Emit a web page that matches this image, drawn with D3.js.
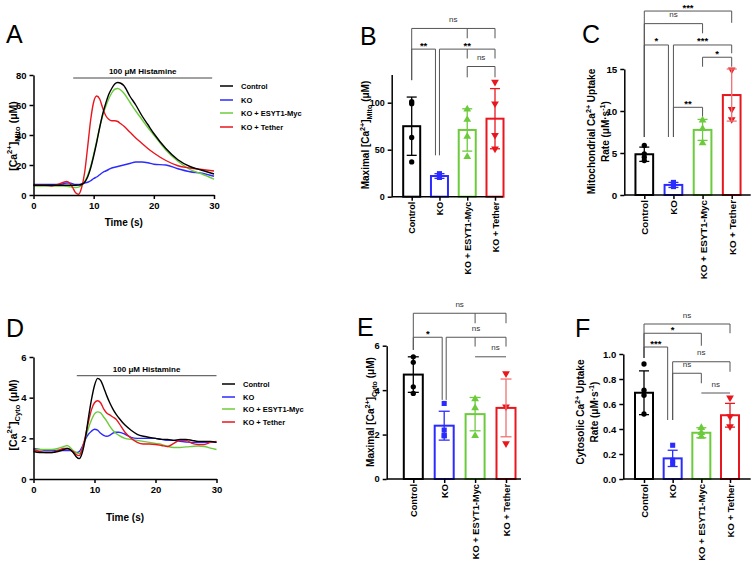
<!DOCTYPE html>
<html>
<head>
<meta charset="utf-8">
<script src="https://cdn.jsdelivr.net/npm/d3@7"></script>
<style>
  body { margin: 0; background: #fff; }
  svg { font-family: "Liberation Sans", Arial, sans-serif; }
</style>
</head>
<body>
<div id="figura"></div>
<script>
const width = 753;
const height = 569;

const svg = d3.select("#figura").append("svg")
    .attr("width", width)
    .attr("height", height);

const groups = ["Control", "KO", "KO + ESYT1-Myc", "KO + Tether"];
const colors = ["#000000", "#2b2bff", "#6ccb3c", "#e8161e"];

// Painel A - [Ca2+] mitocondrial ao longo do tempo
const timeA = [0, 2, 3, 4, 5, 5.5, 6, 6.5, 7, 7.5, 8, 8.5, 9, 9.5, 10, 10.5, 11, 11.5, 12, 12.5,
    13, 13.5, 14, 14.5, 15, 16, 17, 18, 19, 20, 22, 24, 26, 28, 30];
const mitoControl = [6.5, 6.5, 6.5, 6.5, 6.5, 6.5, 6.5, 6.5, 6.5, 6.6, 7, 8.5, 12, 18, 26, 35, 45, 54, 61, 67,
    71, 74, 75, 74.5, 73, 66, 60, 53, 47, 41, 31, 23.5, 19, 16.5, 14];
const mitoKO = [7, 7, 7, 7, 7.5, 8, 8, 7.5, 7, 7, 7.5, 8, 8.5, 9.5, 11, 12, 13.5, 15, 16, 17,
    18, 18.5, 19, 19.5, 20, 21, 22, 22, 21.5, 20.5, 20, 17.5, 15.5, 14.5, 12.5];
const mitoEsyt = [6, 6, 6, 6, 6, 5.8, 5.5, 5.2, 5, 5.3, 6.5, 9, 13, 19, 27, 36, 45, 53, 59, 64,
    68, 70.5, 71, 70, 68, 62, 56, 50.5, 45, 40, 30, 22.5, 17, 14, 10.5];
const mitoTether = [6.5, 6.5, 6, 7, 8.5, 9, 8, 5, 1.5, 0.5, 5, 15, 32, 50, 62, 66, 64, 58, 53, 50.5,
    49.5, 49.5, 49, 47.5, 46, 42, 38, 34.5, 31, 28, 23, 19.5, 18, 17, 16];

// Painel D - [Ca2+] citosólico ao longo do tempo
const timeD = [0, 1, 2, 3, 4, 5, 5.5, 6, 6.5, 7, 7.5, 8, 8.5, 9, 9.5, 10, 10.5, 11, 11.5, 12,
    12.5, 13, 13.5, 14, 15, 16, 17, 18, 19, 20, 21, 22, 23, 24, 25, 26, 27, 28, 29, 30];
const cytoControl = [1.35, 1.3, 1.3, 1.3, 1.35, 1.45, 1.5, 1.45, 1.3, 1.1, 1.0, 1.3, 2.0, 3.0, 3.9, 4.6, 4.95, 4.85, 4.5, 4.1,
    3.75, 3.45, 3.2, 3.0, 2.65, 2.4, 2.2, 2.1, 2.05, 2.0, 1.95, 1.95, 1.9, 1.95, 1.95, 1.9, 1.85, 1.85, 1.85, 1.8];
const cytoKO = [1.5, 1.45, 1.4, 1.4, 1.4, 1.4, 1.4, 1.4, 1.35, 1.3, 1.35, 1.6, 1.95, 2.2, 2.35, 2.45, 2.4, 2.25, 2.15, 2.1,
    2.15, 2.25, 2.3, 2.3, 2.2, 2.05, 2.0, 2.0, 2.0, 2.0, 1.95, 1.9, 1.9, 1.85, 1.82, 1.8, 1.8, 1.8, 1.8, 1.8];
const cytoEsyt = [1.45, 1.45, 1.45, 1.45, 1.5, 1.6, 1.65, 1.55, 1.4, 1.3, 1.25, 1.5, 2.0, 2.5, 2.9, 3.2, 3.3, 3.25, 3.05, 2.85,
    2.6, 2.4, 2.25, 2.15, 2.0, 1.95, 1.9, 1.85, 1.8, 1.75, 1.7, 1.6, 1.55, 1.55, 1.58, 1.6, 1.62, 1.6, 1.52, 1.45];
const cytoTether = [1.45, 1.35, 1.3, 1.3, 1.4, 1.5, 1.5, 1.45, 1.35, 1.2, 1.15, 1.5, 2.1, 2.8, 3.4, 3.75, 3.85, 3.75, 3.45, 3.25,
    3.15, 3.05, 2.95, 2.75, 2.3, 2.0, 1.8, 1.72, 1.72, 1.7, 1.65, 1.6, 1.75, 1.9, 1.9, 1.75, 1.7, 1.7, 1.8, 1.85];

const histamineA = [6.6, 29.7];
const histamineD = [7.1, 30];

// Painéis B, C, E, F - médias, desvios e pontos individuais
const maxMitoMean = [75, 22, 71, 83];
const maxMitoSD = [31, 2.5, 22.5, 32];
const maxMitoPts = [[101, 99, 63, 37], [24.5, 22, 21, 20.5], [93, 82, 64, 42.5], [122, 99, 65.5, 51]];

const rateMitoMean = [4.85, 1.2, 7.75, 11.9];
const rateMitoSD = [0.85, 0.3, 1.25, 3.1];
const rateMitoPts = [[5.9, 4.9, 4.5, 4.1], [1.5, 1.3, 1.0], [8.9, 7.9, 6.2], [14.9, 10.2, 9.0]];

const maxCytoMean = [4.7, 2.4, 2.92, 3.2];
const maxCytoSD = [0.8, 0.65, 0.75, 1.3];
const maxCytoPts = [[5.5, 5.25, 4.15, 3.85], [3.4, 2.2, 1.95, 1.95], [3.6, 3.2, 1.95], [4.75, 3.25, 1.6]];

const rateCytoMean = [0.69, 0.165, 0.37, 0.51];
const rateCytoSD = [0.175, 0.065, 0.04, 0.095];
const rateCytoPts = [[0.92, 0.71, 0.67, 0.52], [0.27, 0.15, 0.12], [0.41, 0.37, 0.34], [0.65, 0.5, 0.42]];

// Comparações: nível da barra e pernas [grupo, deslocamento, valor final]
const maxMitoStats = [
    { level: 179, legs: [[0, 0, 124], [2, 0, 168.5], [3, 0, 168.5]], label: "ns" },
    { level: 157, legs: [[0, 0, 124], [1, -4, 44]], label: "**" },
    { level: 157, legs: [[1, 0, 44], [2, 0, 147], [3, 0, 147]], label: "**" },
    { level: 138.5, legs: [[2, 0, 127], [3, 0, 127]], label: "ns" }
];
const rateMitoStats = [
    { level: 21.9, legs: [[0, 0, 6.9], [3, 0, 20.5]], label: "***" },
    { level: 20.4, legs: [[0, 0, 6.9], [2, 0, 19.25]], label: "ns" },
    { level: 17.86, legs: [[0, 0, 6.9], [1, -5, 6.9]], label: "*" },
    { level: 17.86, legs: [[1, 0, 6.9], [3, 0, 16.87]], label: "***" },
    { level: 16.4, legs: [[2, 0, 15.27], [3, 0, 15.27]], label: "*" },
    { level: 10.44, legs: [[1, 0, 6.9], [2, 0, 9.32]], label: "**" }
];
const maxCytoStats = [
    { level: 7.46, legs: [[0, 0, 5.81], [2, 0, 7.01], [3, 0, 7.01]], label: "ns" },
    { level: 6.38, legs: [[0, 0, 5.81], [1, -2, 3.56]], label: "*" },
    { level: 6.38, legs: [[1, 2, 3.56], [2, 0, 5.96], [3, 0, 5.96]], label: "ns" },
    { level: 5.5, legs: [[2, 0, 5.5], [3, 0, 5.5]], label: "ns", dx: 5 }
];
const rateCytoStats = [
    { level: 1.24, legs: [[0, 0, 0.968], [3, 0, 1.166]], label: "ns" },
    { level: 1.166, legs: [[0, 0, 0.968], [2, 0, 1.066]], label: "*" },
    { level: 1.056, legs: [[0, 0, 0.968], [1, -5, 0.472]], label: "***" },
    { level: 0.938, legs: [[1, 0, 0.472], [3, 0, 0.858]], label: "ns" },
    { level: 0.846, legs: [[1, 0, 0.472], [2, 0, 0.766]], label: "ns" },
    { level: 0.688, legs: [[2, 0, 0.688], [3, 0, 0.688]], label: "ns" }
];

const symbols = [d3.symbolCircle, d3.symbolSquare, d3.symbolTriangle, d3.symbolTriangle];
const intFmt = d3.format("d");

function styleAxis(g, fs) {
    g.attr("font-family", null).attr("font-size", fs).attr("font-weight", "bold");
    g.selectAll(".domain").attr("stroke-width", 1.5);
    g.selectAll(".tick line").attr("stroke-width", 1.5);
}

// Rótulo vertical com sobrescritos e subscritos
function yLabel(lines, cy, fs) {
    lines.forEach(l => {
        const t = svg.append("text")
            .attr("transform", `translate(${l.x},${cy}) rotate(-90)`)
            .attr("text-anchor", "middle")
            .attr("font-size", fs)
            .attr("font-weight", "bold");
        let shift = 0;
        l.parts.forEach(p => {
            const target = p.sup ? -fs * 0.4 : p.sub ? fs * 0.3 : 0;
            t.append("tspan")
                .attr("dy", target - shift)
                .attr("font-size", p.sup || p.sub ? fs * 0.72 : fs)
                .text(p.t);
            shift = target;
        });
    });
}

function panelLetter(letter, x, y) {
    svg.append("text").attr("x", x).attr("y", y)
        .attr("font-size", 25)
        .text(letter);
}

function drawLines(o) {
    const x = d3.scaleLinear().domain([0, 30]).range([o.left, o.right]);
    const y = d3.scaleLinear().domain(o.yDomain).range([o.bottom, o.top]);
    const g = svg.append("g");

    const line = d3.line()
        .x((d, i) => x(o.time[i]))
        .y(d => y(d))
        .curve(d3.curveMonotoneX);

    [1, 2, 3, 0].forEach(k => {
        g.append("path")
            .attr("d", line(o.series[k]))
            .attr("fill", "none")
            .attr("stroke", colors[k])
            .attr("stroke-width", 1.4);
    });

    const ax = g.append("g")
        .attr("transform", `translate(0,${o.bottom})`)
        .call(d3.axisBottom(x).tickValues([0, 10, 20, 30]).tickFormat(intFmt)
            .tickSize(4).tickSizeOuter(0).tickPadding(3));
    const ay = g.append("g")
        .attr("transform", `translate(${o.left},0)`)
        .call(d3.axisLeft(y).tickValues(o.yTicks).tickFormat(intFmt)
            .tickSize(4).tickSizeOuter(0).tickPadding(3));
    styleAxis(ax, 9.5);
    styleAxis(ay, 9.5);

    g.append("text")
        .attr("x", (o.left + o.right) / 2)
        .attr("y", o.timeY)
        .attr("text-anchor", "middle")
        .attr("font-size", 10)
        .attr("font-weight", "bold")
        .text("Time (s)");

    // barra da histamina
    g.append("line")
        .attr("x1", x(o.hist[0])).attr("x2", x(o.hist[1]))
        .attr("y1", y(o.histLevel)).attr("y2", y(o.histLevel))
        .attr("stroke", "#444").attr("stroke-width", 1);
    g.append("text")
        .attr("x", (x(o.hist[0]) + x(o.hist[1])) / 2)
        .attr("y", y(o.histLevel) - 4)
        .attr("text-anchor", "middle")
        .attr("font-size", 8)
        .attr("font-weight", "bold")
        .text("100 μM Histamine");

    // legenda
    const leg = g.selectAll(".leg").data(groups).enter().append("g")
        .attr("transform", (d, i) => `translate(${o.legX},${o.legY[i]})`);
    leg.append("line").attr("x1", 0).attr("x2", 13)
        .attr("stroke", (d, i) => colors[i]).attr("stroke-width", 1.5);
    leg.append("text").attr("x", 21).attr("dy", "0.35em")
        .attr("font-size", 7.5).attr("font-weight", "bold")
        .text(d => d);
}

function drawBars(o) {
    const x = d3.scalePoint().domain(groups).range([o.first, o.last]);
    const y = d3.scaleLinear().domain(o.yDomain).range([o.bottom, o.top]);
    const g = svg.append("g");

    // chaves de significância
    o.stats.forEach(b => {
        const xs = b.legs.map(l => x(groups[l[0]]) + l[1]);
        const x1 = d3.min(xs), x2 = d3.max(xs);
        g.append("line")
            .attr("x1", x1).attr("x2", x2)
            .attr("y1", y(b.level)).attr("y2", y(b.level))
            .attr("stroke", "#555").attr("stroke-width", 1);
        b.legs.forEach((l, i) => {
            g.append("line")
                .attr("x1", xs[i]).attr("x2", xs[i])
                .attr("y1", y(b.level)).attr("y2", y(l[2]))
                .attr("stroke", "#555").attr("stroke-width", 1);
        });
        const ns = b.label === "ns";
        g.append("text")
            .attr("x", (x1 + x2) / 2 + (b.dx || 0))
            .attr("y", y(b.level) - (ns ? 6.5 : 0.5))
            .attr("text-anchor", "middle")
            .attr("font-size", ns ? 8 : 9.5)
            .attr("font-weight", ns ? "normal" : "bold")
            .attr("fill", ns ? "#333" : "#000")
            .text(b.label);
    });

    g.selectAll(".bar").data(groups).enter().append("rect")
        .attr("x", d => x(d) - o.barW / 2)
        .attr("y", (d, i) => y(o.mean[i]))
        .attr("width", o.barW)
        .attr("height", (d, i) => y(0) - y(o.mean[i]))
        .attr("fill", "#fff")
        .attr("stroke", (d, i) => colors[i])
        .attr("stroke-width", 2);

    // pontos individuais
    groups.forEach((grp, i) => {
        g.selectAll(null).data(o.points[i]).enter().append("path")
            .attr("d", d3.symbol().type(symbols[i]).size(i === 0 ? 22 : 26))
            .attr("transform", d => `translate(${x(grp)},${y(d)})` + (i === 3 ? " rotate(180)" : ""))
            .attr("fill", colors[i]);
    });

    // barras de erro (média ± DP)
    groups.forEach((grp, i) => {
        const c = (o.errColors && o.errColors[i]) || colors[i];
        const lo = y(o.mean[i] - o.sd[i]), hi = y(o.mean[i] + o.sd[i]);
        g.append("line").attr("x1", x(grp)).attr("x2", x(grp)).attr("y1", lo).attr("y2", hi)
            .attr("stroke", c).attr("stroke-width", 1.3);
        [lo, hi].forEach(v => {
            g.append("line").attr("x1", x(grp) - o.cap / 2).attr("x2", x(grp) + o.cap / 2)
                .attr("y1", v).attr("y2", v)
                .attr("stroke", c).attr("stroke-width", 1.3);
        });
    });

    const ay = g.append("g")
        .attr("transform", `translate(${o.axisX},0)`)
        .call(d3.axisLeft(y).tickValues(o.yTicks).tickFormat(o.fmt || intFmt)
            .tickSize(4).tickSizeOuter(0).tickPadding(3));
    styleAxis(ay, o.fs);

    const ax = g.append("g")
        .attr("transform", `translate(0,${y(0)})`)
        .call(d3.axisBottom(x).tickSize(4).tickSizeOuter(0));
    ax.select(".domain").remove();
    styleAxis(ax, o.fs);
    ax.selectAll("text")
        .attr("transform", "rotate(-90)")
        .attr("text-anchor", "end")
        .attr("x", -5).attr("y", 0).attr("dy", "0.35em");
    ax.append("line")
        .attr("x1", o.axisX).attr("x2", o.xEnd)
        .attr("stroke", "#000").attr("stroke-width", 1.5);
}

// Painel A
panelLetter("A", 6, 43);
drawLines({
    time: timeA, series: [mitoControl, mitoKO, mitoEsyt, mitoTether],
    left: 33.5, right: 214, bottom: 195, top: 75,
    yDomain: [0, 80], yTicks: [0, 20, 40, 60, 80],
    hist: histamineA, histLevel: 78, timeY: 226,
    legX: 220, legY: [86, 100, 113, 127]
});
yLabel([{ x: 16.5, parts: [{ t: "[Ca" }, { t: "2+", sup: true }, { t: "]" }, { t: "Mito", sub: true }, { t: " (μM)" }] }], 136, 10.5);

// Painel D
panelLetter("D", 6, 337);
drawLines({
    time: timeD, series: [cytoControl, cytoKO, cytoEsyt, cytoTether],
    left: 33.5, right: 216.5, bottom: 479, top: 357,
    yDomain: [0, 6], yTicks: [0, 2, 4, 6],
    hist: histamineD, histLevel: 5.08, timeY: 521,
    legX: 222, legY: [384, 397, 409, 422]
});
yLabel([{ x: 16.5, parts: [{ t: "[Ca" }, { t: "2+", sup: true }, { t: "]" }, { t: "Cyto", sub: true }, { t: " (μM)" }] }], 415, 10.5);

// Painel B
panelLetter("B", 360, 45);
drawBars({
    mean: maxMitoMean, sd: maxMitoSD, points: maxMitoPts, stats: maxMitoStats,
    axisX: 391.7, first: 411.7, last: 495, xEnd: 503, bottom: 196.7, top: 74.5,
    yDomain: [0, 130], yTicks: [0, 50, 100], barW: 17, cap: 10, fs: 9
});
yLabel([{ x: 368.5, parts: [{ t: "Maximal [Ca" }, { t: "2+", sup: true }, { t: "]" }, { t: "Mito", sub: true }, { t: " (μM)" }] }], 135, 10);

// Painel C
panelLetter("C", 582, 43);
drawBars({
    mean: rateMitoMean, sd: rateMitoSD, points: rateMitoPts, stats: rateMitoStats,
    axisX: 624.3, first: 644.3, last: 731.7, xEnd: 750.7, bottom: 195, top: 69,
    yDomain: [0, 15], yTicks: [0, 5, 10, 15], barW: 17.7, cap: 10, fs: 9.8,
    errColors: [null, null, null, "#f07070"]
});
yLabel([
    { x: 595, parts: [{ t: "Mitochondrial Ca" }, { t: "2+", sup: true }, { t: " Uptake" }] },
    { x: 609, parts: [{ t: "Rate (μM·s" }, { t: "-1", sup: true }, { t: ")" }] }
], 131.5, 10);

// Painel E
panelLetter("E", 357, 336);
drawBars({
    mean: maxCytoMean, sd: maxCytoSD, points: maxCytoPts, stats: maxCytoStats,
    axisX: 386.7, first: 413.3, last: 506, xEnd: 521, bottom: 479, top: 345.7,
    yDomain: [0, 6], yTicks: [0, 2, 4, 6], barW: 19, cap: 11, fs: 9.3,
    errColors: [null, null, null, "#f07070"]
});
yLabel([{ x: 373.5, parts: [{ t: "Maximal [Ca" }, { t: "2+", sup: true }, { t: "]" }, { t: "Cyto", sub: true }, { t: " (μM)" }] }], 412, 10);

// Painel F
panelLetter("F", 575, 337);
drawBars({
    mean: rateCytoMean, sd: rateCytoSD, points: rateCytoPts, stats: rateCytoStats,
    axisX: 623.3, first: 644, last: 730, xEnd: 750.7, bottom: 479, top: 354,
    yDomain: [0, 1], yTicks: [0, 0.2, 0.4, 0.6, 0.8, 1.0], fmt: d3.format(".1f"),
    barW: 18, cap: 10, fs: 9.5
});
yLabel([
    { x: 584, parts: [{ t: "Cytosolic Ca" }, { t: "2+", sup: true }, { t: " Uptake" }] },
    { x: 598, parts: [{ t: "Rate (μM·s" }, { t: "-1", sup: true }, { t: ")" }] }
], 412, 10);
</script>
</body>
</html>
